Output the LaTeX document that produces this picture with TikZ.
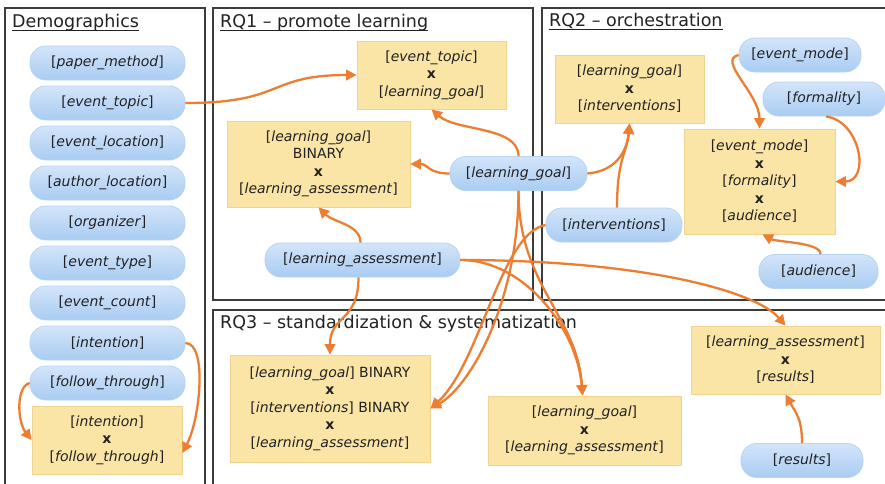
\documentclass[tikz,border=0pt]{standalone}
\usepackage{fontspec}
\setmainfont{DejaVu Sans}
\usetikzlibrary{arrows.meta}

\definecolor{arrowor}{HTML}{ED7D31}
\definecolor{boxfill}{HTML}{FAE4A6}
\definecolor{boxline}{HTML}{F2D491}
\definecolor{pilltop}{HTML}{D3E5FA}
\definecolor{pillbot}{HTML}{A9CCF2}
\definecolor{pillline}{HTML}{B5D3F4}
\definecolor{panelline}{HTML}{3C3C3C}
\definecolor{inktext}{HTML}{222222}

% a field name in brackets
\newcommand\fld[1]{[\textit{#1}]}
\newcommand\crossx{\textbf{x}}

\tikzset{
  pill/.style={rectangle, rounded corners=16pt, top color=pilltop, bottom color=pillbot,
    draw=pillline, line width=0.8pt, minimum height=34pt, inner sep=0pt,
    text=inktext, font=\fontsize{14}{17.5}\selectfont},
  crossbox/.style={rectangle, fill=boxfill, draw=boxline, line width=0.8pt, align=center,
    inner sep=0pt, text=inktext, font=\fontsize{14}{17.5}\selectfont},
  link/.style={draw=arrowor, line width=2.3pt, -{Triangle[length=10.5pt,width=10.5pt]}},
  panel/.style={draw=panelline, line width=1.6pt},
  paneltitle/.style={anchor=base west, inner sep=0pt, text=inktext,
    font=\fontsize{17.5}{20}\selectfont},
  titleline/.style={draw=inktext, line width=1pt},
}

\begin{document}
\begin{tikzpicture}[x=1pt, y=-1pt]
\useasboundingbox[fill=white] (0,0) rectangle (885,483);

% panels
\draw[panel] (5,490) -- (5,8) -- (205,8) -- (205,490);
\draw[panel] (213,8) rectangle (533,300);
\draw[panel] (890,8) -- (542,8) -- (542,300) -- (890,300);
\draw[panel] (890,310) -- (213,310) -- (213,490);

% panel titles
\node[paneltitle] (tdemo) at (12,27) {Demographics};
\node[paneltitle] (trq1) at (220,27) {RQ1 – promote learning};
\node[paneltitle] (trq2) at (549,26) {RQ2 – orchestration};
\node[paneltitle] (trq3) at (220,328) {RQ3 – standardization \& systematization};
\foreach \t in {tdemo,trq1,trq2}
  \draw[titleline] ([yshift=-3pt]\t.base west) -- ([yshift=-3pt]\t.base east);

% demographics
\foreach \nm/\yy/\lbl in {pm/63/paper\_method, etp/103/event\_topic, elc/143/event\_location,
    alc/183/author\_location, org/223/organizer, ety/263/event\_type, ecn/303/event\_count,
    intn/343/intention, fth/383/follow\_through}
  \node[pill, minimum width=155pt] (\nm) at (107.5,\yy) {\fld{\lbl}};
\node[crossbox, minimum width=150pt, minimum height=68pt] (ift) at (107,440)
  {\fld{intention}\\\crossx\\\fld{follow\_through}};

% RQ1
\node[crossbox, minimum width=149pt, minimum height=68pt] (etlg) at (431.5,75)
  {\fld{event\_topic}\\\crossx\\\fld{learning\_goal}};
\node[crossbox, minimum width=183pt, minimum height=86pt] (lgbla) at (318.5,164)
  {\fld{learning\_goal}\\BINARY\\\crossx\\\fld{learning\_assessment}};
\node[pill, minimum width=137pt] (lgp) at (518.5,173.5) {\fld{learning\_goal}};
\node[pill, minimum width=195pt] (lap) at (362.5,260) {\fld{learning\_assessment}};

% RQ2
\node[crossbox, minimum width=149pt, minimum height=68pt] (lgint) at (629.5,89)
  {\fld{learning\_goal}\\\crossx\\\fld{interventions}};
\node[pill, minimum width=136pt] (intp) at (614,225) {\fld{interventions}};
\node[pill, minimum width=122pt] (emp) at (800,55) {\fld{event\_mode}};
\node[pill, minimum width=122pt] (formp) at (824,99) {\fld{formality}};
\node[crossbox, minimum width=151pt, minimum height=105pt] (emfa) at (759.5,181.5)
  {\fld{event\_mode}\\\crossx\\\fld{formality}\\\crossx\\\fld{audience}};
\node[pill, minimum width=119pt] (audp) at (818.5,271.5) {\fld{audience}};

% RQ3
\node[crossbox, minimum width=200pt, minimum height=107pt] (bin) at (330,408.5)
  {\fld{learning\_goal} BINARY\\\crossx\\\fld{interventions} BINARY\\\crossx\\\fld{learning\_assessment}};
\node[crossbox, minimum width=193pt, minimum height=69pt] (lgla) at (584.5,430.5)
  {\fld{learning\_goal}\\\crossx\\\fld{learning\_assessment}};
\node[crossbox, minimum width=189pt, minimum height=68pt] (lares) at (785.5,360)
  {\fld{learning\_assessment}\\\crossx\\\fld{results}};
\node[pill, minimum width=122pt] (resp) at (802,460.5) {\fld{results}};

% connectors
\draw[link] (etp.east) .. controls +(100,0) and +(-90,0) .. (etlg.west);
\draw[link] (lgp.north) .. controls +(0,-30) and +(25,22) .. (etlg.south);
\draw[link] (lgp.west) .. controls +(-22,0) and +(18,0) .. (lgbla.east);
\draw[link] ([xshift=-2pt]lap.north) .. controls +(0,-18) and +(15,15) .. (lgbla.south);
\draw[link] (lgp.east) .. controls +(25,-2) and +(-3,32) .. (lgint.south);
\draw[link] ([xshift=3pt]intp.north) .. controls +(0,-50) and +(-2,28) .. (lgint.south);
\draw[link] (emp.west) .. controls +(-22,5) and +(0,-35) .. (emfa.north);
\draw[link] ([xshift=2pt]formp.south) .. controls +(35,5) and +(35,0) .. (emfa.east);
\draw[link] ([xshift=2pt]audp.north) .. controls +(0,-12) and +(15,8) .. ([xshift=3pt]emfa.south);
\draw[link] (resp.north) .. controls +(0,-25) and +(10,18) .. (lares.south);
\draw[link] (lap.east) .. controls +(180,0) and +(-30,-35) .. (lares.north);
\draw[link] ([xshift=-4pt]lap.south) .. controls +(0,45) and +(0,-40) .. (bin.north);
\draw[link] (lgp.south) .. controls +(0,95) and +(-5,-80) .. ([xshift=-2pt]lgla.north);
\draw[link] (lap.east) .. controls +(65,0) and +(-5,-65) .. ([xshift=-2pt]lgla.north);
\draw[link] (lgp.south) .. controls +(0,110) and +(40,-22) .. (bin.east);
\draw[link] (intp.west) .. controls +(-45,8) and +(50,-45) .. (bin.east);
\draw[link] (intn.east) .. controls +(22,0) and +(18,-35) .. ([yshift=-13pt]ift.east);
\draw[link] (fth.west) .. controls +(-14,4) and +(-14,-18) .. (ift.west);
\end{tikzpicture}
\end{document}
